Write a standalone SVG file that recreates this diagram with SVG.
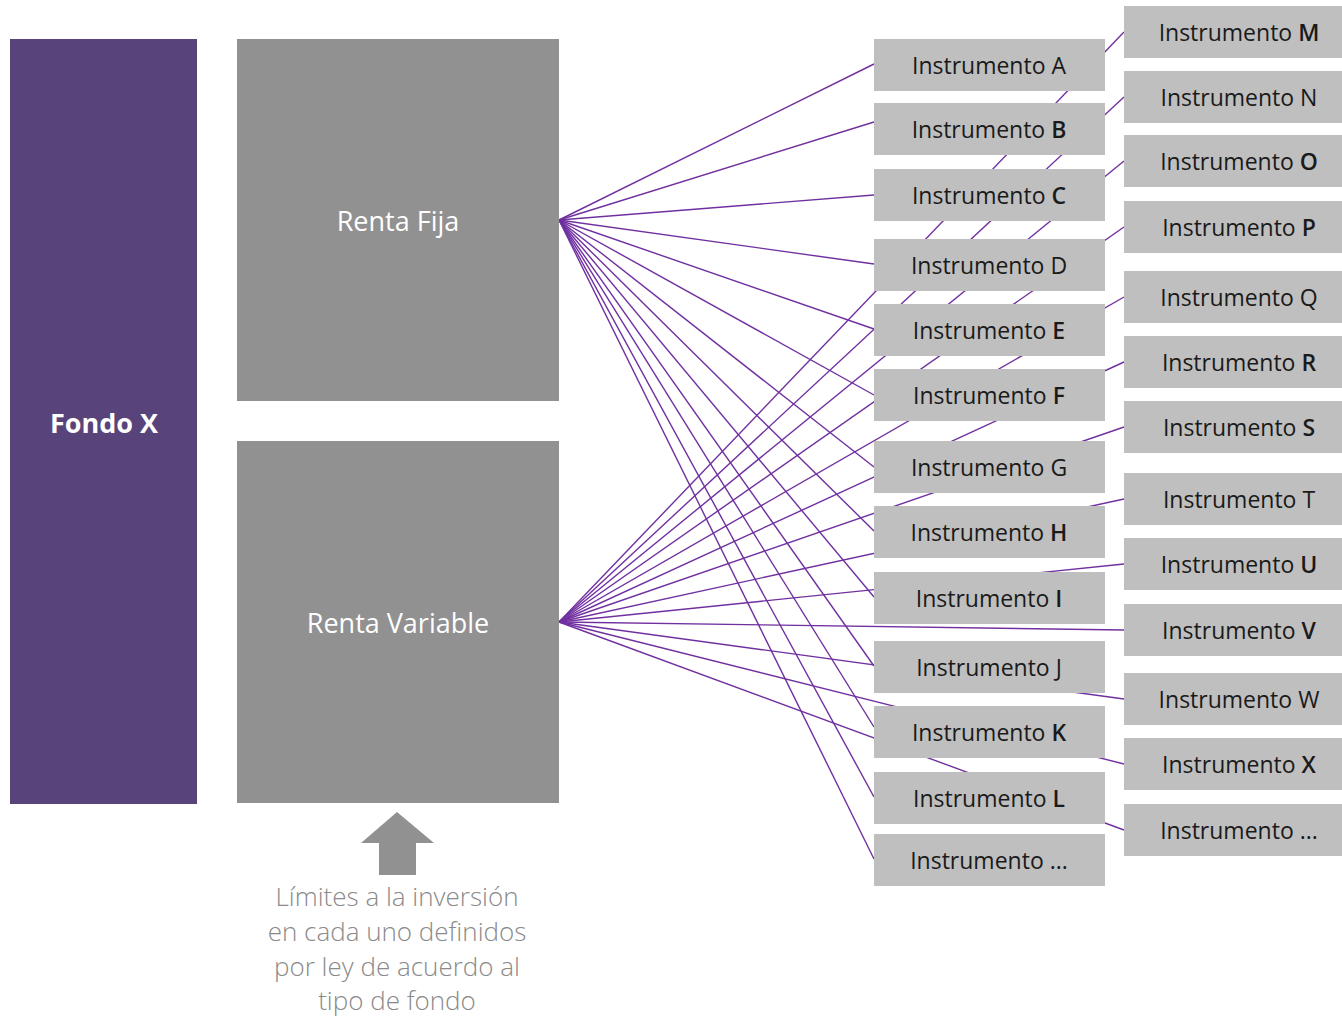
<svg xmlns="http://www.w3.org/2000/svg" width="1342" height="1018" viewBox="0 0 1342 1018">
<style>
.big{fill:#919191}
.inst{fill:#bfbfbf}
.it{font-family:"Open Sans","Liberation Sans",sans-serif;font-size:23px;fill:#1a1a1a;text-anchor:middle}
.it tspan.b{font-weight:600}
.wt{font-family:"Open Sans","Liberation Sans",sans-serif;font-size:27px;fill:#ffffff;text-anchor:middle}
.note{font-family:"Open Sans","Liberation Sans",sans-serif;font-size:26px;font-weight:300;fill:#8a8a8a;text-anchor:middle}
.con line{stroke:#7030a0;stroke-width:1.4}
</style>
<g id="connectors" class="con">
<line x1="559" y1="220" x2="874" y2="64"/>
<line x1="559" y1="220" x2="874" y2="122"/>
<line x1="559" y1="220" x2="874" y2="195"/>
<line x1="559" y1="220" x2="874" y2="264"/>
<line x1="559" y1="220" x2="874" y2="329"/>
<line x1="559" y1="220" x2="874" y2="395"/>
<line x1="559" y1="220" x2="874" y2="467"/>
<line x1="559" y1="220" x2="874" y2="531"/>
<line x1="559" y1="220" x2="874" y2="597"/>
<line x1="559" y1="220" x2="874" y2="666"/>
<line x1="559" y1="220" x2="874" y2="727"/>
<line x1="559" y1="220" x2="874" y2="797"/>
<line x1="559" y1="220" x2="874" y2="859"/>
<line x1="559" y1="622" x2="1124" y2="32"/>
<line x1="559" y1="622" x2="1124" y2="97"/>
<line x1="559" y1="622" x2="1124" y2="161"/>
<line x1="559" y1="622" x2="1124" y2="227"/>
<line x1="559" y1="622" x2="1124" y2="297"/>
<line x1="559" y1="622" x2="1124" y2="362"/>
<line x1="559" y1="622" x2="1124" y2="427"/>
<line x1="559" y1="622" x2="1124" y2="499"/>
<line x1="559" y1="622" x2="1124" y2="564"/>
<line x1="559" y1="622" x2="1124" y2="630"/>
<line x1="559" y1="622" x2="1124" y2="699"/>
<line x1="559" y1="622" x2="1124" y2="764"/>
<line x1="559" y1="622" x2="1124" y2="830"/>
</g>
<g id="fondo-x"><rect x="10" y="39" width="187" height="765" fill="#58447a"/><text class="wt" x="104" y="433" font-weight="bold">Fondo X</text></g>
<g id="renta-fija"><rect class="big" x="237" y="39" width="322" height="362"/><text class="wt" x="398" y="231">Renta Fija</text></g>
<g id="renta-variable"><rect class="big" x="237" y="441" width="322" height="362"/><text class="wt" x="398" y="633">Renta Variable</text></g>
<g id="inst-a"><rect class="inst" x="874" y="39" width="231" height="52"/><text class="it" x="989" y="74">Instrumento A</text></g>
<g id="inst-b"><rect class="inst" x="874" y="103" width="231" height="52"/><text class="it" x="989" y="138">Instrumento <tspan class="b">B</tspan></text></g>
<g id="inst-c"><rect class="inst" x="874" y="169" width="231" height="52"/><text class="it" x="989" y="204">Instrumento <tspan class="b">C</tspan></text></g>
<g id="inst-d"><rect class="inst" x="874" y="239" width="231" height="52"/><text class="it" x="989" y="274">Instrumento D</text></g>
<g id="inst-e"><rect class="inst" x="874" y="304" width="231" height="52"/><text class="it" x="989" y="339">Instrumento <tspan class="b">E</tspan></text></g>
<g id="inst-f"><rect class="inst" x="874" y="369" width="231" height="52"/><text class="it" x="989" y="404">Instrumento <tspan class="b">F</tspan></text></g>
<g id="inst-g"><rect class="inst" x="874" y="441" width="231" height="52"/><text class="it" x="989" y="476">Instrumento G</text></g>
<g id="inst-h"><rect class="inst" x="874" y="506" width="231" height="52"/><text class="it" x="989" y="541">Instrumento <tspan class="b">H</tspan></text></g>
<g id="inst-i"><rect class="inst" x="874" y="572" width="231" height="52"/><text class="it" x="989" y="607">Instrumento <tspan class="b">I</tspan></text></g>
<g id="inst-j"><rect class="inst" x="874" y="641" width="231" height="52"/><text class="it" x="989" y="676">Instrumento J</text></g>
<g id="inst-k"><rect class="inst" x="874" y="706" width="231" height="52"/><text class="it" x="989" y="741">Instrumento <tspan class="b">K</tspan></text></g>
<g id="inst-l"><rect class="inst" x="874" y="772" width="231" height="52"/><text class="it" x="989" y="807">Instrumento <tspan class="b">L</tspan></text></g>
<g id="inst-left-more"><rect class="inst" x="874" y="834" width="231" height="52"/><text class="it" x="989" y="869">Instrumento ...</text></g>
<g id="inst-m"><rect class="inst" x="1124" y="6" width="218" height="52"/><text class="it" x="1239" y="41">Instrumento <tspan class="b">M</tspan></text></g>
<g id="inst-n"><rect class="inst" x="1124" y="71" width="218" height="52"/><text class="it" x="1239" y="106">Instrumento N</text></g>
<g id="inst-o"><rect class="inst" x="1124" y="135" width="218" height="52"/><text class="it" x="1239" y="170">Instrumento <tspan class="b">O</tspan></text></g>
<g id="inst-p"><rect class="inst" x="1124" y="201" width="218" height="52"/><text class="it" x="1239" y="236">Instrumento <tspan class="b">P</tspan></text></g>
<g id="inst-q"><rect class="inst" x="1124" y="271" width="218" height="52"/><text class="it" x="1239" y="306">Instrumento Q</text></g>
<g id="inst-r"><rect class="inst" x="1124" y="336" width="218" height="52"/><text class="it" x="1239" y="371">Instrumento <tspan class="b">R</tspan></text></g>
<g id="inst-s"><rect class="inst" x="1124" y="401" width="218" height="52"/><text class="it" x="1239" y="436">Instrumento <tspan class="b">S</tspan></text></g>
<g id="inst-t"><rect class="inst" x="1124" y="473" width="218" height="52"/><text class="it" x="1239" y="508">Instrumento T</text></g>
<g id="inst-u"><rect class="inst" x="1124" y="538" width="218" height="52"/><text class="it" x="1239" y="573">Instrumento <tspan class="b">U</tspan></text></g>
<g id="inst-v"><rect class="inst" x="1124" y="604" width="218" height="52"/><text class="it" x="1239" y="639">Instrumento <tspan class="b">V</tspan></text></g>
<g id="inst-w"><rect class="inst" x="1124" y="673" width="218" height="52"/><text class="it" x="1239" y="708">Instrumento W</text></g>
<g id="inst-x"><rect class="inst" x="1124" y="738" width="218" height="52"/><text class="it" x="1239" y="773">Instrumento <tspan class="b">X</tspan></text></g>
<g id="inst-right-more"><rect class="inst" x="1124" y="804" width="218" height="52"/><text class="it" x="1239" y="839">Instrumento ...</text></g>
<g id="limits-note">
<polygon points="397,812 434,843 416,843 416,875 379,875 379,843 361,843" fill="#919191"/>
<text class="note" x="397" y="906">Límites  a la inversión</text>
<text class="note" x="397" y="941">en cada uno definidos</text>
<text class="note" x="397" y="976">por ley de acuerdo al</text>
<text class="note" x="397" y="1010">tipo de fondo</text>
</g>
</svg>
